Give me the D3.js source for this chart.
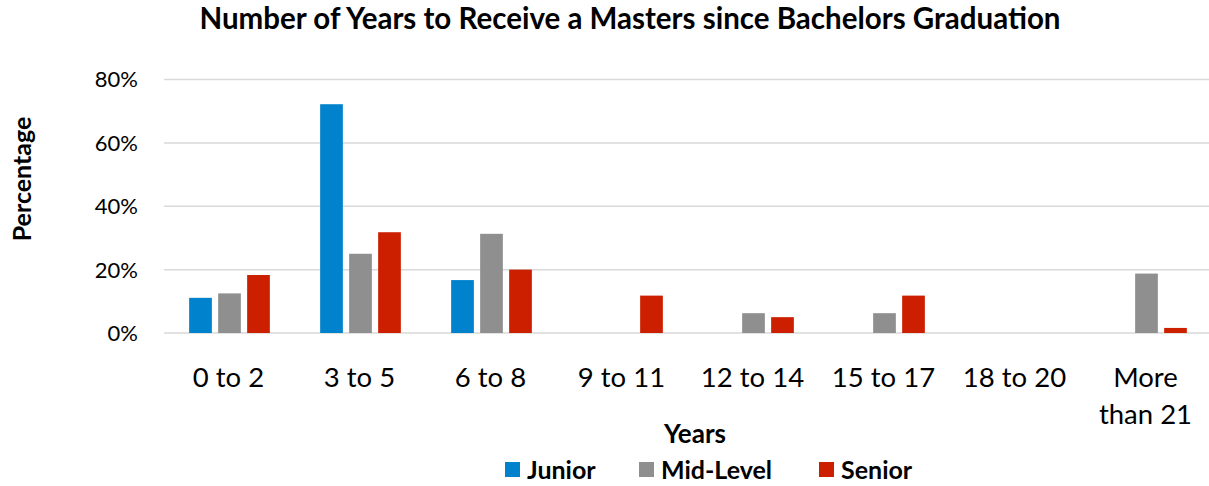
<!DOCTYPE html>
<html>
<meta charset="utf-8">
<style>
  body { margin: 0; background: #fff; }
  text { font-family: Lato, "Open Sans", sans-serif; fill: #000; }
</style>
<script src="https://d3js.org/d3.v7.min.js"></script>
<div id="chart"></div>
<script>

var categories = ["0 to 2", "3 to 5", "6 to 8", "9 to 11", "12 to 14", "15 to 17", "18 to 20", "More than 21"];
var series = ["Junior", "Mid-Level", "Senior"];
var junior   = [11.1, 72.2, 16.7, 0, 0, 0, 0, 0];
var midLevel = [12.5, 25.0, 31.3, 0, 6.25, 6.25, 0, 18.75];
var senior   = [18.3, 31.8, 20.0, 11.8, 5.0, 11.8, 0, 1.6];
var yTicks = [0, 20, 40, 60, 80];
var colors = ["#0082CC", "#8F8F8F", "#CC1F00"];

var values = [junior, midLevel, senior];

var W = 1209, H = 486;
var margin = {top: 79.5, left: 164, right: -3, bottom: 153};
var plotW = W - margin.left - margin.right,
    plotH = H - margin.top - margin.bottom;

var svg = d3.select("#chart").append("svg")
  .attr("width", W).attr("height", H);

var g = svg.append("g")
  .attr("transform", "translate(" + margin.left + "," + margin.top + ")");

var x0 = d3.scaleBand().domain(categories).range([0, plotW]).padding(0);
var x1 = d3.scaleBand().domain(series)
  .range([x0.bandwidth() * 0.192, x0.bandwidth() * 0.808])
  .paddingInner(0.217).paddingOuter(0);
var y = d3.scaleLinear().domain([0, 80]).range([plotH, 0]);

// gridlines
g.append("g").selectAll("line").data(yTicks).enter().append("line")
  .attr("x1", 0).attr("x2", plotW)
  .attr("y1", function(d) { return y(d); })
  .attr("y2", function(d) { return y(d); })
  .attr("stroke", "#d9d9d9").attr("stroke-width", 1.5);

// y tick labels
g.append("g").selectAll("text").data(yTicks).enter().append("text")
  .attr("x", -26)
  .attr("y", function(d) { return y(d); })
  .attr("dy", "0.36em")
  .attr("text-anchor", "end")
  .style("font-size", "22px")
  .text(function(d) { return d + "%"; });

// bars
var groups = g.append("g").selectAll("g").data(categories).enter().append("g")
  .attr("transform", function(d) { return "translate(" + x0(d) + ",0)"; });

groups.selectAll("rect")
  .data(function(c, i) {
    return series.map(function(s, j) { return {s: s, j: j, v: values[j][i]}; });
  })
  .enter().append("rect")
  .filter(function(d) { return d.v > 0; })
  .attr("x", function(d) { return x1(d.s); })
  .attr("y", function(d) { return y(d.v); })
  .attr("width", x1.bandwidth())
  .attr("height", function(d) { return plotH - y(d.v); })
  .attr("fill", function(d) { return colors[d.j]; });

// category labels
var catLabels = g.append("g").selectAll("text").data(categories).enter().append("text")
  .attr("x", function(d) { return x0(d) + x0.bandwidth() / 2 - 1; })
  .attr("y", plotH + 54)
  .attr("text-anchor", "middle")
  .style("font-size", "27.5px");

catLabels.each(function(d) {
  var t = d3.select(this);
  if (d === "More than 21") {
    t.append("tspan").attr("x", t.attr("x")).text("More");
    t.append("tspan").attr("x", t.attr("x")).attr("dy", 37).text("than 21");
  } else {
    t.text(d);
  }
});

// title
svg.append("text")
  .attr("x", 630).attr("y", 29)
  .attr("text-anchor", "middle")
  .style("font-size", "29.5px").style("font-weight", "bold")
  .text("Number of Years to Receive a Masters since Bachelors Graduation");

// axis titles
svg.append("text")
  .attr("x", 695).attr("y", 443)
  .attr("text-anchor", "middle")
  .style("font-size", "26px").style("font-weight", "bold")
  .text("Years");

svg.append("text")
  .attr("transform", "translate(31,179) rotate(-90)")
  .attr("text-anchor", "middle")
  .style("font-size", "25px").style("font-weight", "bold")
  .text("Percentage");

// legend
var legendX = [505, 639, 819];
var legend = svg.append("g").selectAll("g").data(series).enter().append("g")
  .attr("transform", function(d, i) { return "translate(" + legendX[i] + ",462)"; });
legend.append("rect")
  .attr("width", 15).attr("height", 15)
  .attr("fill", function(d, i) { return colors[i]; });
legend.append("text")
  .attr("x", 22).attr("y", 8).attr("dy", "0.36em")
  .style("font-size", "25px").style("font-weight", "bold")
  .text(function(d) { return d; });

</script>
</html>
